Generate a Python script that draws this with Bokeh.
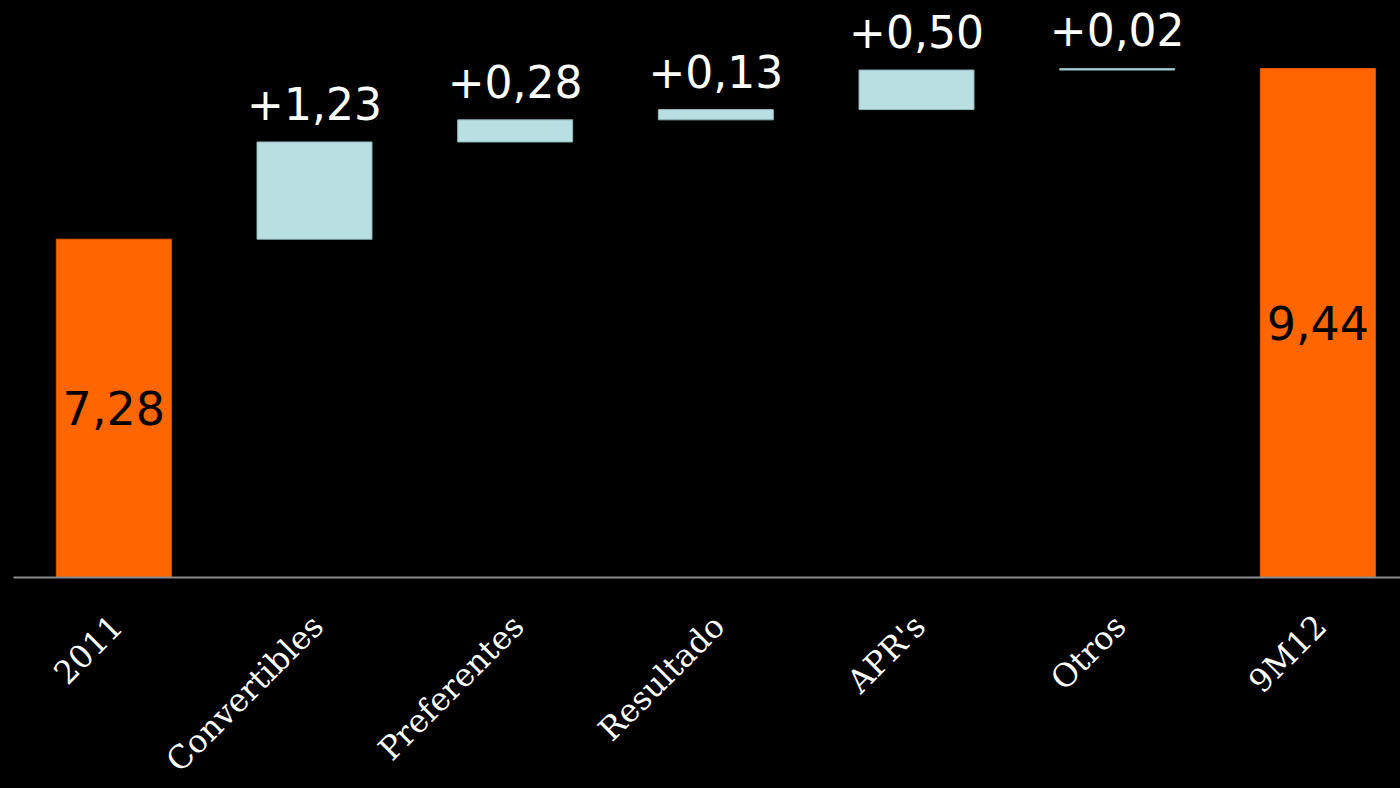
import math
from bokeh.plotting import figure
from bokeh.models import ColumnDataSource, Range1d
from bokeh.core.properties import value
from bokeh.embed import file_html
from bokeh.resources import INLINE

# ---- data ----
categories = ["2011", "Convertibles", "Preferentes", "Resultado", "APR's", "Otros", "9M12"]
start_total = 7.28
deltas = [1.23, 0.28, 0.13, 0.50, 0.02]
end_total = 9.44
axis_min = 3.0      # value axis starts at 3 (baseline)
axis_max = 10.30

# ---- layout constants (pixels) ----
W, H = 1400, 788
left_pad = 13          # where the category axis begins
band_px = 200.67       # width of one category band
base_px = 577          # baseline position from top

# ---- derived waterfall geometry ----
n = len(categories)
xs = list(range(n))
px_per_unit = base_px / (axis_max - axis_min)
y_start = axis_min - (H - base_px) / px_per_unit
x_start = -0.5 - left_pad / band_px
x_end = x_start + W / band_px

tot_x = [xs[0], xs[-1]]
tot_v = [start_total, end_total]
tot_lbl = [f"{v:.2f}".replace(".", ",") for v in tot_v]
tot_mid = [(axis_min + v) / 2 for v in tot_v]

d_x = xs[1:-1]
d_bottom, d_top = [], []
run = start_total
for d in deltas:
    d_bottom.append(run)
    run += d
    d_top.append(run)
d_lbl = [("+" if d >= 0 else "") + f"{d:.2f}".replace(".", ",") for d in deltas]

tot_src = ColumnDataSource(dict(x=tot_x, top=tot_v, mid=tot_mid, lbl=tot_lbl))
d_src = ColumnDataSource(dict(x=d_x, bottom=d_bottom, top=d_top, lbl=d_lbl))
cat_src = ColumnDataSource(dict(x=xs, y=[axis_min] * n, name=categories))

p = figure(width=W, height=H,
           x_range=Range1d(x_start, x_end), y_range=Range1d(y_start, axis_max),
           x_axis_location=None, y_axis_location=None,
           output_backend="svg", toolbar_location=None,
           background_fill_color="black", border_fill_color="black",
           min_border=0)
p.outline_line_color = None
p.grid.visible = False
p.styles = {"background-color": "black"}

bw = 0.573
p.vbar(x="x", top="top", bottom=axis_min, width=bw, source=tot_src,
       fill_color="#FF6600", line_color="#E05A00", line_width=1)
p.vbar(x="x", top="top", bottom="bottom", width=bw, source=d_src,
       fill_color="#B9DFE2", line_color="#8FB5B8", line_width=1)

# baseline (category axis line)
p.segment(x0=[-0.5], x1=[n - 0.5], y0=[axis_min], y1=[axis_min],
          line_color="#8c8c8c", line_width=2)

p.text(x="x", y="mid", text="lbl", source=tot_src,
       text_align="center", text_baseline="middle",
       text_font=value("DejaVu Sans"), text_font_size="46px", text_color="black")
p.text(x="x", y="top", text="lbl", source=d_src,
       text_align="center", text_baseline="bottom", y_offset=-22,
       text_font=value("DejaVu Sans"), text_font_size="44px", text_color="white")

# category labels, rotated 45 degrees
p.text(x="x", y="y", text="name", source=cat_src,
       angle=math.pi / 4, text_align="right", text_baseline="middle",
       x_offset=3, y_offset=43,
       text_font=value("DejaVu Serif"), text_font_size="32px", text_color="white")

html = file_html(p, INLINE)
html = html.replace("<body>", '<body style="margin:0;background:#000000;">', 1)
open("out.html", "w").write(html)
